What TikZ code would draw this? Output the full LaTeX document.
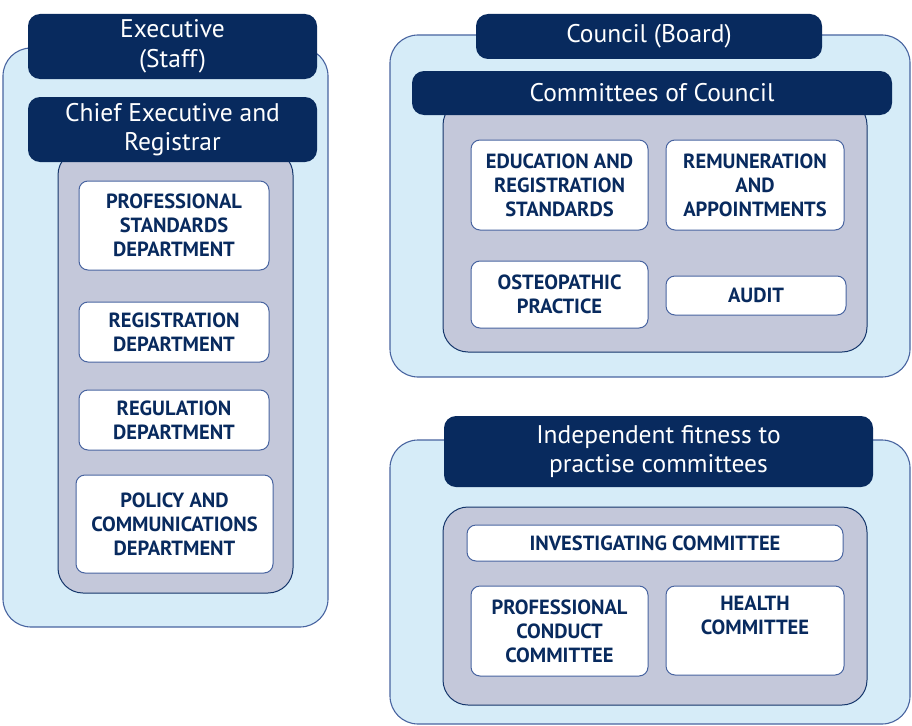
\documentclass[tikz,border=0pt]{standalone}
\usepackage{fontspec}
\setmainfont{PT Sans}
\usepackage{tikz}
\usetikzlibrary{shapes}

\definecolor{navy}{RGB}{8,42,94}
\definecolor{paleblue}{RGB}{214,236,248}
\definecolor{greypanel}{RGB}{196,200,218}
\definecolor{rimblue}{RGB}{72,100,160}

\begin{document}
\begin{tikzpicture}[x=1pt,y=-1pt]
        \tikzset{panel/.style = {shape=rectangle,draw=rimblue,fill=paleblue,line width=1.1pt,rounded corners=28pt,inner sep=0pt}}
        \tikzset{tray/.style = {shape=rectangle,draw=navy!80!rimblue,fill=greypanel,line width=1pt,rounded corners=25pt,inner sep=0pt}}
        \tikzset{header/.style = {shape=rectangle,fill=navy,text=white,rounded corners=12pt,inner sep=0pt,align=center,font=\fontsize{25.5}{29.5}\selectfont}}
        \tikzset{item/.style = {shape=rectangle,draw=rimblue,fill=white,text=navy,line width=1pt,rounded corners=9pt,inner sep=0pt,align=center,font=\fontsize{20.5}{24}\selectfont\bfseries}}
        \useasboundingbox (0,0) rectangle (912,725);
        \clip (0,0) rectangle (912,725);
        % panels
        \node[panel, minimum width=325pt, minimum height=579pt] (executivepanel) at (165.5,337.5) {};
        \node[panel, minimum width=520pt, minimum height=342pt] (councilpanel) at (650,206) {};
        \node[panel, minimum width=520pt, minimum height=284pt] (fitnesspanel) at (650,582) {};
        % trays
        \node[tray, minimum width=235pt, minimum height=443pt] (executivetray) at (175.5,371.5) {};
        \node[tray, minimum width=424pt, minimum height=252pt] (counciltray) at (655,226) {};
        \node[tray, minimum width=424pt, minimum height=198pt] (fitnesstray) at (655,606) {};
        % headers
        \node[header, minimum width=289pt, minimum height=65pt] (executive) at (172.5,46.5) {Executive\\(Staff)};
        \node[header, minimum width=289pt, minimum height=65pt] (chiefexecutive) at (172.5,129.5) {Chief Executive and\\Registrar};
        \node[header, minimum width=346pt, minimum height=45pt] (council) at (649,36.5) {Council (Board)};
        \node[header, minimum width=480pt, minimum height=44pt] (committees) at (652,93) {Committees of Council};
        \node[header, minimum width=429pt, minimum height=71pt] (fitness) at (658.5,451.5) {Independent fitness to\\practise committees};
        % departments
        \node[item, minimum width=190pt, minimum height=89pt] (profstandards) at (174,225.5) {PROFESSIONAL\\STANDARDS\\DEPARTMENT};
        \node[item, minimum width=190pt, minimum height=60pt] (registration) at (174,332) {REGISTRATION\\DEPARTMENT};
        \node[item, minimum width=190pt, minimum height=60pt] (regulation) at (174,420) {REGULATION\\DEPARTMENT};
        \node[item, minimum width=197pt, minimum height=98pt] (policy) at (174.5,524) {POLICY AND\\COMMUNICATIONS\\DEPARTMENT};
        % committees of council
        \node[item, minimum width=177pt, minimum height=90pt] (education) at (559.5,185) {EDUCATION AND\\REGISTRATION\\STANDARDS};
        \node[item, minimum width=178pt, minimum height=90pt] (remuneration) at (755,185) {REMUNERATION\\AND\\APPOINTMENTS};
        \node[item, minimum width=177pt, minimum height=67pt] (osteopathic) at (559.5,294.5) {OSTEOPATHIC\\PRACTICE};
        \node[item, minimum width=180pt, minimum height=39pt] (audit) at (756,295.5) {AUDIT};
        % fitness to practise committees
        \node[item, minimum width=376pt, minimum height=36pt] (investigating) at (655,543) {INVESTIGATING COMMITTEE};
        \node[item, minimum width=177pt, minimum height=90pt] (conduct) at (559.5,631) {PROFESSIONAL\\CONDUCT\\COMMITTEE};
        \node[item, minimum width=178pt, minimum height=89pt] (health) at (755,630.5) {HEALTH\\COMMITTEE\\\strut};
    \end{tikzpicture}
\end{document}
